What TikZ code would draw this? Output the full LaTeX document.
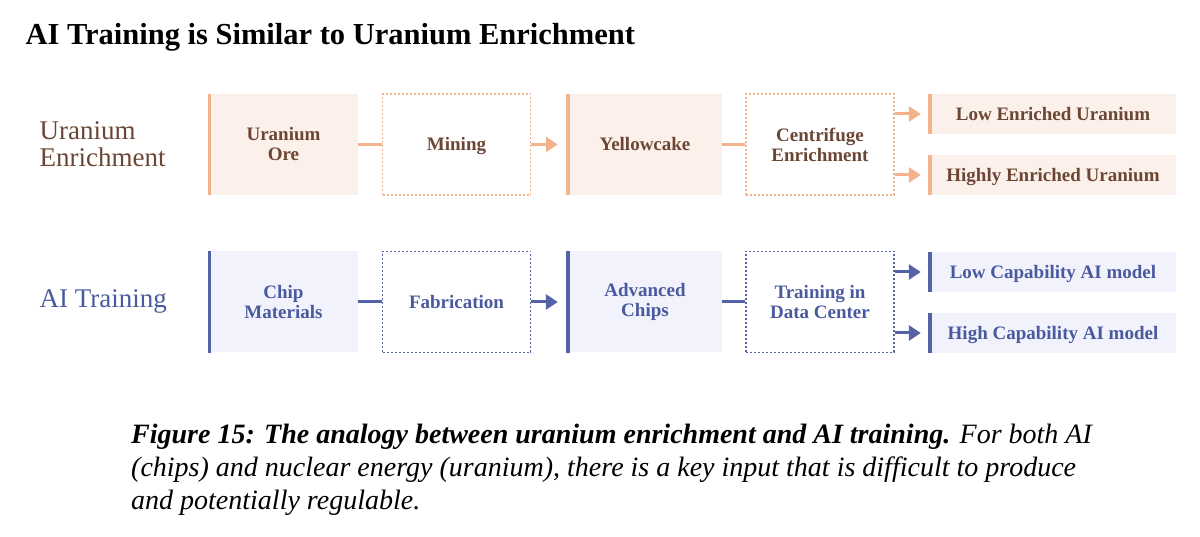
\documentclass[tikz,border=0pt]{standalone}
\usepackage{fontspec}
\setmainfont{Liberation Serif}
\usetikzlibrary{arrows.meta,positioning}
\definecolor{uorange}{HTML}{F2B28C}
\definecolor{ufill}{HTML}{FCF1EA}
\definecolor{utext}{HTML}{6B4634}
\definecolor{ablue}{HTML}{5462A6}
\definecolor{afill}{HTML}{F1F2FB}
\definecolor{atext}{HTML}{4A5A9E}

\begin{document}
\begin{tikzpicture}[x=1pt, y=-1pt,
      stage/.style={minimum width=148pt, minimum height=101pt, inner sep=0pt,
                    align=center, font=\fontsize{19}{20}\selectfont\bfseries},
      proc/.style={stage, draw, dash pattern=on 2pt off 2pt, line width=1.2pt},
      result/.style={minimum width=246pt, minimum height=40pt, inner sep=0pt,
                     font=\fontsize{19}{20}\selectfont\bfseries, oneline},
      oneline/.style={text height=13pt, text depth=0pt},
      bar/.style={line width=3.5pt},
      link/.style={line width=3pt},
      arr/.style={line width=3pt, -{Triangle[length=12pt,width=15pt]}, shorten >=10pt}
    ]
      \useasboundingbox (0,0) rectangle (1200,537);

      \node[anchor=base west, font=\fontsize{30.5}{32}\selectfont\bfseries] (title) at (22,45)
        {AI Training is Similar to Uranium Enrichment};

      \node[anchor=west, align=left, font=\fontsize{27}{27}\selectfont, text=utext] (ulabel) at (36,144)
        {Uranium\\Enrichment};
      \node[anchor=west, font=\fontsize{27}{27}\selectfont, text=atext] (alabel) at (36,301)
        {AI Training};

      \node[stage, fill=ufill, text=utext] (ore) at (283.5,144.5) {Uranium\\Ore};
      \node[proc, draw=uorange, text=utext, oneline] (mining) at (456.5,144.5) {Mining};
      \node[stage, fill=ufill, text=utext, minimum width=154pt, oneline] (cake) at (645,144.5) {Yellowcake};
      \node[proc, draw=uorange, text=utext] (centri) at (820,144.5) {Centrifuge\\Enrichment};
      \node[result, fill=ufill, text=utext] (leu) at (1053,114) {Low Enriched Uranium};
      \node[result, fill=ufill, text=utext] (heu) at (1053,175) {Highly Enriched Uranium};

      \node[stage, fill=afill, text=atext] (chipmat) at (283.5,302) {Chip\\Materials};
      \node[proc, draw=ablue, text=atext, oneline] (fab) at (456.5,302) {Fabrication};
      \node[stage, fill=afill, text=atext, minimum width=154pt] (advchips) at (645,302) {Advanced\\Chips};
      \node[proc, draw=ablue, text=atext] (datacenter) at (820,302) {Training in\\Data Center};
      \node[result, fill=afill, text=atext] (lowcap) at (1053,272) {Low Capability AI model};
      \node[result, fill=afill, text=atext] (highcap) at (1053,333) {High Capability AI model};

      \foreach \n in {ore,cake,leu,heu}
        \draw[bar, uorange] (\n.north west) -- (\n.south west);
      \foreach \n in {chipmat,advchips,lowcap,highcap}
        \draw[bar, ablue] (\n.north west) -- (\n.south west);

      \draw[link, uorange] (ore) -- (mining);
      \draw[arr, uorange] (mining) -- (cake);
      \draw[link, uorange] (cake) -- (centri);
      \draw[arr, uorange, shorten >=9pt] (centri.east |- leu.west) -- (leu.west);
      \draw[arr, uorange, shorten >=9pt] (centri.east |- heu.west) -- (heu.west);

      \draw[link, ablue] (chipmat) -- (fab);
      \draw[arr, ablue] (fab) -- (advchips);
      \draw[link, ablue] (advchips) -- (datacenter);
      \draw[arr, ablue, shorten >=9pt] (datacenter.east |- lowcap.west) -- (lowcap.west);
      \draw[arr, ablue, shorten >=9pt] (datacenter.east |- highcap.west) -- (highcap.west);

      \node[anchor=north west, align=left, inner sep=0pt,
            font=\fontsize{28}{33}\selectfont\itshape] (caption) at (131,424) {
        \textbf{Figure 15: The analogy between uranium enrichment and AI training.} For both AI\\
        (chips) and nuclear energy (uranium), there is a key input that is difficult to produce\\
        and potentially regulable.
      };
    \end{tikzpicture}
\end{document}
